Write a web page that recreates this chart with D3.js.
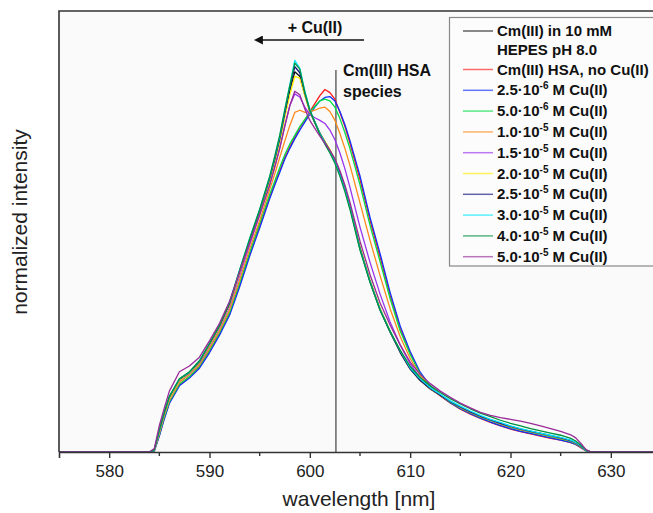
<!DOCTYPE html>
<html>
<head>
<meta charset="utf-8">
<script src="https://cdn.jsdelivr.net/npm/d3@7"></script>
<style>
  html, body { margin: 0; padding: 0; background: #fff; }
  svg { display: block; font-family: Arial, "Liberation Sans", sans-serif; }
</style>
</head>
<body>
<div id="chart"></div>
<script>
// Wavelength grid (nm) shared by all spectra
var wavelengths = [575, 584, 584.5, 585, 585.5, 586, 587, 588, 589, 590, 591, 592, 593, 594, 595, 596,
  596.5, 597, 597.5, 598, 598.5, 599, 599.5, 600, 600.5, 601, 601.5, 602, 602.5, 603, 603.5, 604,
  605, 606, 607, 608, 609, 610, 611, 612, 613, 614, 615, 616, 617, 618, 619, 620, 621, 622, 623, 624, 625, 626,
  626.5, 627, 627.5, 628, 635];

// Normalized intensities, one array per sample
var hepes = [0, 0, 0.004, 0.048, 0.088, 0.122, 0.163, 0.178, 0.204, 0.243, 0.284, 0.336, 0.408, 0.478, 0.546, 0.618,
  0.662, 0.708, 0.765, 0.818, 0.862, 0.852, 0.81, 0.772, 0.746, 0.722, 0.703, 0.684, 0.662, 0.632, 0.598, 0.556,
  0.462, 0.386, 0.322, 0.272, 0.226, 0.188, 0.162, 0.143, 0.128, 0.113, 0.101, 0.09, 0.08, 0.072, 0.064, 0.057, 0.051, 0.046, 0.041, 0.036, 0.031, 0.025,
  0.021, 0.013, 0.004, 0, 0];
var hsaNoCu = [0, 0, 0.003, 0.038, 0.078, 0.112, 0.152, 0.17, 0.193, 0.228, 0.268, 0.313, 0.378, 0.448, 0.512, 0.578,
  0.608, 0.638, 0.668, 0.692, 0.714, 0.736, 0.752, 0.772, 0.79, 0.808, 0.822, 0.815, 0.8, 0.77, 0.738, 0.7,
  0.618, 0.525, 0.442, 0.355, 0.28, 0.224, 0.178, 0.148, 0.127, 0.111, 0.097, 0.086, 0.076, 0.067, 0.059, 0.052, 0.046, 0.041, 0.036, 0.031, 0.027, 0.021,
  0.017, 0.01, 0.003, 0, 0];
var cu25e6 = [0, 0, 0.002, 0.036, 0.075, 0.11, 0.15, 0.168, 0.19, 0.225, 0.265, 0.31, 0.374, 0.444, 0.508, 0.574,
  0.605, 0.634, 0.664, 0.688, 0.71, 0.73, 0.748, 0.766, 0.782, 0.796, 0.804, 0.806, 0.796, 0.772, 0.742, 0.706,
  0.626, 0.532, 0.45, 0.362, 0.286, 0.228, 0.181, 0.15, 0.129, 0.112, 0.098, 0.087, 0.077, 0.068, 0.06, 0.053, 0.047, 0.042, 0.037, 0.032, 0.027, 0.022,
  0.017, 0.011, 0.003, 0, 0];
var cu50e6 = [0, 0, 0.003, 0.04, 0.08, 0.114, 0.154, 0.171, 0.195, 0.231, 0.271, 0.317, 0.383, 0.452, 0.518, 0.584,
  0.614, 0.645, 0.674, 0.698, 0.718, 0.738, 0.754, 0.77, 0.784, 0.796, 0.8, 0.796, 0.782, 0.756, 0.724, 0.688,
  0.606, 0.514, 0.432, 0.348, 0.275, 0.221, 0.177, 0.149, 0.129, 0.113, 0.1, 0.089, 0.079, 0.071, 0.063, 0.056, 0.05, 0.045, 0.04, 0.035, 0.03, 0.024,
  0.019, 0.012, 0.003, 0, 0];
var cu10e5 = [0, 0, 0.004, 0.043, 0.083, 0.117, 0.158, 0.175, 0.198, 0.235, 0.275, 0.322, 0.39, 0.46, 0.525, 0.595,
  0.63, 0.668, 0.705, 0.74, 0.77, 0.775, 0.77, 0.772, 0.775, 0.78, 0.782, 0.772, 0.752, 0.722, 0.688, 0.65,
  0.565, 0.48, 0.4, 0.325, 0.262, 0.212, 0.174, 0.148, 0.13, 0.115, 0.101, 0.09, 0.08, 0.072, 0.064, 0.057, 0.051, 0.046, 0.041, 0.036, 0.031, 0.025,
  0.02, 0.012, 0.004, 0, 0];
var cu15e5 = [0, 0, 0.004, 0.046, 0.086, 0.12, 0.161, 0.177, 0.201, 0.24, 0.28, 0.33, 0.4, 0.47, 0.538, 0.608,
  0.648, 0.69, 0.74, 0.785, 0.812, 0.805, 0.782, 0.765, 0.758, 0.752, 0.745, 0.73, 0.708, 0.678, 0.642, 0.6,
  0.51, 0.43, 0.358, 0.295, 0.243, 0.2, 0.168, 0.146, 0.13, 0.115, 0.102, 0.091, 0.081, 0.073, 0.065, 0.058, 0.052, 0.047, 0.042, 0.037, 0.032, 0.026,
  0.021, 0.013, 0.004, 0, 0];
var cu20e5 = [0, 0, 0.004, 0.047, 0.087, 0.121, 0.162, 0.178, 0.203, 0.242, 0.283, 0.334, 0.406, 0.476, 0.543, 0.615,
  0.658, 0.703, 0.758, 0.81, 0.852, 0.848, 0.808, 0.772, 0.748, 0.724, 0.705, 0.686, 0.664, 0.635, 0.6, 0.56,
  0.466, 0.39, 0.326, 0.275, 0.229, 0.19, 0.164, 0.144, 0.129, 0.114, 0.102, 0.091, 0.081, 0.073, 0.065, 0.058, 0.052, 0.047, 0.042, 0.037, 0.032, 0.026,
  0.021, 0.013, 0.004, 0, 0];
var cu25e5 = [0, 0, 0.005, 0.05, 0.09, 0.125, 0.165, 0.18, 0.205, 0.245, 0.286, 0.337, 0.41, 0.48, 0.547, 0.62,
  0.663, 0.71, 0.768, 0.824, 0.874, 0.86, 0.814, 0.774, 0.748, 0.723, 0.703, 0.683, 0.662, 0.632, 0.597, 0.556,
  0.462, 0.387, 0.323, 0.273, 0.228, 0.189, 0.163, 0.144, 0.129, 0.114, 0.102, 0.091, 0.081, 0.073, 0.065, 0.058, 0.052, 0.047, 0.042, 0.037, 0.032, 0.026,
  0.021, 0.013, 0.004, 0, 0];
var cu30e5 = [0, 0, 0.005, 0.051, 0.091, 0.126, 0.166, 0.181, 0.207, 0.247, 0.288, 0.34, 0.413, 0.484, 0.55, 0.624,
  0.668, 0.716, 0.776, 0.832, 0.888, 0.87, 0.818, 0.776, 0.749, 0.722, 0.701, 0.68, 0.658, 0.628, 0.594, 0.553,
  0.46, 0.386, 0.323, 0.274, 0.23, 0.191, 0.166, 0.146, 0.131, 0.116, 0.104, 0.093, 0.083, 0.074, 0.067, 0.059, 0.053, 0.048, 0.043, 0.038, 0.033, 0.027,
  0.022, 0.014, 0.004, 0, 0];
var cu40e5 = [0, 0, 0.005, 0.05, 0.09, 0.126, 0.166, 0.182, 0.207, 0.246, 0.287, 0.338, 0.412, 0.483, 0.55, 0.625,
  0.67, 0.718, 0.775, 0.83, 0.882, 0.868, 0.816, 0.775, 0.748, 0.72, 0.698, 0.678, 0.655, 0.625, 0.59, 0.55,
  0.458, 0.385, 0.322, 0.273, 0.231, 0.194, 0.169, 0.15, 0.135, 0.121, 0.109, 0.098, 0.088, 0.08, 0.072, 0.065, 0.059, 0.053, 0.048, 0.043, 0.038, 0.031,
  0.025, 0.016, 0.005, 0, 0];
var cu50e5 = [0, 0, 0.008, 0.06, 0.1, 0.138, 0.182, 0.195, 0.215, 0.252, 0.292, 0.342, 0.408, 0.474, 0.538, 0.605,
  0.645, 0.688, 0.738, 0.785, 0.818, 0.81, 0.778, 0.752, 0.734, 0.716, 0.7, 0.684, 0.665, 0.638, 0.605, 0.566,
  0.478, 0.402, 0.338, 0.288, 0.243, 0.204, 0.176, 0.155, 0.138, 0.124, 0.111, 0.1, 0.09, 0.083, 0.078, 0.074, 0.07, 0.065, 0.059, 0.053, 0.047, 0.039,
  0.032, 0.02, 0.006, 0, 0];

// Legend labels: [main text, exponent, tail, second line]
var labels = [
  ['Cm(III) in 10 mM', null, '', 'HEPES pH 8.0'],
  ['Cm(III) HSA, no Cu(II)', null, ''],
  ['2.5\u00b710', '-6', ' M Cu(II)'],
  ['5.0\u00b710', '-6', ' M Cu(II)'],
  ['1.0\u00b710', '-5', ' M Cu(II)'],
  ['1.5\u00b710', '-5', ' M Cu(II)'],
  ['2.0\u00b710', '-5', ' M Cu(II)'],
  ['2.5\u00b710', '-5', ' M Cu(II)'],
  ['3.0\u00b710', '-5', ' M Cu(II)'],
  ['4.0\u00b710', '-5', ' M Cu(II)'],
  ['5.0\u00b710', '-5', ' M Cu(II)']
];
var colors = ['#111111', '#ff1a1a', '#1030ff', '#00dd44', '#ff8a1a', '#9933ee', '#ffee00',
  '#101080', '#00e8ff', '#00903c', '#992b99'];
var seriesValues = [hepes, hsaNoCu, cu25e6, cu50e6, cu10e5, cu15e5, cu20e5, cu25e5, cu30e5, cu40e5, cu50e5];

var xTicks = [580, 590, 600, 610, 620, 630];
var hsaMarker = 602.6;

var width = 653;
var height = 513;
var plotLeft = 59, plotTop = 11, plotBottom = 452;

var x = d3.scaleLinear().domain([575, 635]).range([plotLeft, 661]);
var y = d3.scaleLinear().domain([0, 1]).range([plotBottom, plotTop]);

var svg = d3.select('#chart').append('svg')
  .attr('width', width)
  .attr('height', height);

// Plot background
svg.append('rect')
  .attr('x', plotLeft).attr('y', plotTop)
  .attr('width', width - plotLeft + 10).attr('height', plotBottom - plotTop)
  .attr('fill', '#fafafa');

// Marker line for the HSA species
svg.append('line')
  .attr('x1', x(hsaMarker)).attr('x2', x(hsaMarker))
  .attr('y1', 70).attr('y2', plotBottom)
  .attr('stroke', '#666')
  .attr('stroke-width', 1.5);

// Spectra
var line = d3.line()
  .x(function (d) { return x(d[0]); })
  .y(function (d) { return y(d[1]); });

svg.append('g')
  .selectAll('path')
  .data(seriesValues)
  .enter()
  .append('path')
  .attr('d', function (vals) {
    return line(wavelengths.map(function (w, i) { return [w, vals[i]]; }));
  })
  .attr('fill', 'none')
  .attr('stroke', function (d, i) { return colors[i]; })
  .attr('stroke-width', 1.3)
  .attr('stroke-linejoin', 'round');

// Frame
svg.append('path')
  .attr('d', 'M' + (width + 5) + ',' + plotTop + 'H' + plotLeft + 'V' + plotBottom)
  .attr('fill', 'none')
  .attr('stroke', '#333')
  .attr('stroke-width', 1.6);

// x axis
var xAxis = svg.append('g')
  .attr('transform', 'translate(0,' + plotBottom + ')')
  .call(d3.axisBottom(x).tickValues(xTicks).tickSize(6).tickPadding(7).tickFormat(d3.format('d')));
xAxis.select('.domain').attr('stroke', '#333').attr('stroke-width', 1.6);
xAxis.selectAll('.tick line').attr('stroke', '#333').attr('stroke-width', 1.4);
xAxis.selectAll('.tick text')
  .attr('font-size', 17)
  .attr('fill', '#222')
  .attr('font-family', 'Arial, "Liberation Sans", sans-serif');
xAxis.selectAll('.minor')
  .data(d3.range(585, 635, 10))
  .enter()
  .append('line')
  .attr('class', 'minor')
  .attr('x1', function (d) { return x(d); })
  .attr('x2', function (d) { return x(d); })
  .attr('y1', 0).attr('y2', 4)
  .attr('stroke', '#333').attr('stroke-width', 1.4);

// Axis titles
svg.append('text')
  .attr('x', 359).attr('y', 506)
  .attr('text-anchor', 'middle')
  .attr('font-size', 21)
  .attr('fill', '#222')
  .text('wavelength [nm]');
svg.append('text')
  .attr('transform', 'translate(27,222) rotate(-90)')
  .attr('text-anchor', 'middle')
  .attr('font-size', 21)
  .attr('fill', '#222')
  .text('normalized intensity');

// Arrow "+ Cu(II)"
svg.append('defs').append('marker')
  .attr('id', 'head')
  .attr('viewBox', '0 0 10 10')
  .attr('refX', 1).attr('refY', 5)
  .attr('markerWidth', 11).attr('markerHeight', 9)
  .attr('markerUnits', 'userSpaceOnUse')
  .attr('orient', 'auto')
  .append('path')
  .attr('d', 'M0,0L10,5L0,10Z')
  .attr('fill', '#111');
svg.append('line')
  .attr('x1', 364).attr('x2', 262)
  .attr('y1', 40).attr('y2', 40)
  .attr('stroke', '#111')
  .attr('stroke-width', 1.6)
  .attr('marker-end', 'url(#head)');
svg.append('text')
  .attr('x', 315).attr('y', 33)
  .attr('text-anchor', 'middle')
  .attr('font-size', 16)
  .attr('font-weight', 'bold')
  .attr('fill', '#111')
  .text('+ Cu(II)');

// HSA species annotation
svg.append('text')
  .attr('x', 343).attr('y', 76)
  .attr('font-size', 16)
  .attr('font-weight', 'bold')
  .attr('fill', '#111')
  .text('Cm(III) HSA');
svg.append('text')
  .attr('x', 343).attr('y', 97)
  .attr('font-size', 16)
  .attr('font-weight', 'bold')
  .attr('fill', '#111')
  .text('species');

// Legend
var legend = svg.append('g');
legend.append('rect')
  .attr('x', 449.5).attr('y', 17.5)
  .attr('width', 230).attr('height', 248.5)
  .attr('fill', '#fcfcfc')
  .attr('stroke', '#888')
  .attr('stroke-width', 1.2);

var rowY = function (i) {
  return i === 0 ? 31 : 69.5 + (i - 1) * 20.8;
};
var rows = legend.selectAll('.row')
  .data(labels)
  .enter()
  .append('g')
  .attr('class', 'row')
  .attr('transform', function (d, i) { return 'translate(0,' + rowY(i) + ')'; });
rows.append('line')
  .attr('x1', 463).attr('x2', 493)
  .attr('y1', 0).attr('y2', 0)
  .attr('stroke', function (d, i) { return colors[i]; })
  .attr('stroke-opacity', 0.65)
  .attr('stroke-width', 1.5);
var t = rows.append('text')
  .attr('x', 497).attr('y', 5)
  .attr('font-size', 15)
  .attr('font-weight', 'bold')
  .attr('fill', '#111');
t.append('tspan').text(function (d) { return d[0]; });
t.filter(function (d) { return d[1]; })
  .append('tspan')
  .attr('dy', -6)
  .attr('font-size', 10)
  .text(function (d) { return d[1]; });
t.filter(function (d) { return d[1]; })
  .append('tspan')
  .attr('dy', 6)
  .text(function (d) { return d[2]; });
rows.filter(function (d) { return d[3]; })
  .append('text')
  .attr('x', 497).attr('y', 24)
  .attr('font-size', 15)
  .attr('font-weight', 'bold')
  .attr('fill', '#111')
  .text(function (d) { return d[3]; });
</script>
</body>
</html>
